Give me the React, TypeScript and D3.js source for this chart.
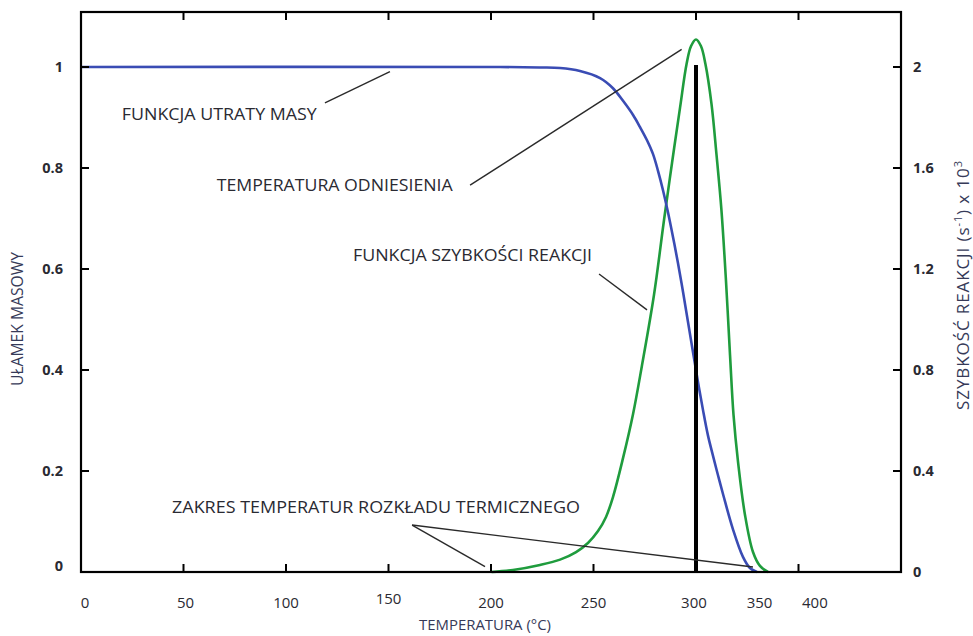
import React from "react";
import * as d3 from "d3";

// ---- data ----
const tempTicks = [0, 50, 100, 150, 200, 250, 300, 350, 400];
const tempTickLabels = ["0", "50", "100", "150", "200", "250", "300", "350", "400"];
const tempTickLabelAt = [2, 51, 100, 150, 200, 250, 299, 331, 358];
const massTicks = [0, 0.2, 0.4, 0.6, 0.8, 1];
const massTickLabels = ["0", "0.2", "0.4", "0.6", "0.8", "1"];
const rateTicks = [0, 0.4, 0.8, 1.2, 1.6, 2];
const rateTickLabels = ["0", "0.4", "0.8", "1.2", "1.6", "2"];

// mass-loss function (mass fraction)
const massTemp = [0, 204.4, 223.9, 233.7, 243.4, 253.2, 259.5, 264.4, 269.3, 272.7, 276.1, 279.0, 281.5, 283.9, 286.3, 288.8, 291.2, 293.7, 296.1, 298.5, 300.9, 303.4, 305.8, 308.3, 310.7, 313.2, 318.0, 322.9, 326.3, 329.7];
const massValue = [1, 1, 0.999, 0.998, 0.992, 0.978, 0.958, 0.933, 0.905, 0.881, 0.855, 0.828, 0.794, 0.756, 0.713, 0.663, 0.612, 0.554, 0.495, 0.436, 0.378, 0.321, 0.271, 0.23, 0.192, 0.154, 0.085, 0.03, 0.008, 0];

// reaction-rate function (s^-1 x 10^3)
const rateTemp = [200.3, 210.7, 223.9, 233.7, 241.5, 247.3, 252.2, 256.1, 259.5, 264.4, 269.3, 273.6, 279.5, 284.4, 288.3, 292.2, 295.4, 297.6, 300.0, 302.4, 304.6, 307.6, 310.0, 312.4, 314.6, 316.6, 318.3, 320.5, 323.9, 327.8, 331.2, 335.1];
const rateValue = [0, 0.008, 0.028, 0.049, 0.079, 0.115, 0.162, 0.218, 0.297, 0.451, 0.626, 0.816, 1.097, 1.394, 1.62, 1.838, 2.012, 2.083, 2.109, 2.083, 2.012, 1.851, 1.653, 1.434, 1.157, 0.859, 0.622, 0.436, 0.226, 0.079, 0.024, 0];

const refTemperature = 300;
const refRate = 2;

const annotationTexts = [
  "FUNKCJA UTRATY MASY",
  "TEMPERATURA ODNIESIENIA",
  "FUNKCJA SZYBKOŚCI REAKCJI",
  "ZAKRES TEMPERATUR ROZKŁADU TERMICZNEGO",
];
// anchor [temperature, mass fraction]
const annotationAnchors: [number, number][] = [
  [19.9, 0.907],
  [66.2, 0.766],
  [132.7, 0.628],
  [44.4, 0.129],
];
// leader lines [[t1, m1], [t2, m2]]
const leaderLines: [number, number][][] = [
  [[119.0, 0.929], [150.7, 0.991]],
  [[189.8, 0.766], [293.0, 1.035]],
  [[252.7, 0.59], [276.1, 0.519]],
  [[161.5, 0.093], [197.1, 0.0105]],
  [[161.5, 0.093], [327.8, 0.0099]],
];

export default function App() {
  const W = 973;
  const H = 636;
  const left = 81, right = 901, top = 12, bottom = 572;
  const x = d3.scaleLinear().domain([0, 400]).range([left, right]);
  const yM = d3.scaleLinear().domain([0, (bottom - top) / 505]).range([bottom, top]);
  const yR = d3.scaleLinear().domain([0, (2 * (bottom - top)) / 505]).range([bottom, top]);

  const massLine = d3
    .line<number>()
    .x((_, i) => x(massTemp[i]))
    .y((d) => yM(d))
    .curve(d3.curveCatmullRom.alpha(0.5));
  const rateLine = d3
    .line<number>()
    .x((_, i) => x(rateTemp[i]))
    .y((d) => yR(d))
    .curve(d3.curveCatmullRom.alpha(0.5));

  const textColor = "#2a2a32";
  const titleColor = "#363a58";
  const font = "'Open Sans', 'DejaVu Sans', sans-serif";
  const annoLen = [195, 236, 239, 408];
  const tickLen = 8;

  return (
    <svg
      width={W}
      height={H}
      style={{ position: "fixed", left: 0, top: 0, background: "#fff" }}
      fontFamily={font}
    >
      <rect x={0} y={0} width={W} height={H} fill="#fff" />

      {/* curves */}
      <path d={rateLine(rateValue) || ""} fill="none" stroke="#1f9c3d" strokeWidth={2.6} />
      <path d={massLine(massValue) || ""} fill="none" stroke="#3a4cb4" strokeWidth={2.6} />

      {/* reference temperature line */}
      <line
        x1={x(refTemperature)}
        x2={x(refTemperature)}
        y1={yR(0)}
        y2={yR(refRate) - 2}
        stroke="#000"
        strokeWidth={4}
      />

      {/* leader lines */}
      {leaderLines.map((l, i) => (
        <line
          key={"ll" + i}
          x1={x(l[0][0])}
          y1={yM(l[0][1])}
          x2={x(l[1][0])}
          y2={yM(l[1][1])}
          stroke="#2a2a2a"
          strokeWidth={1.4}
        />
      ))}

      {/* annotation texts */}
      {annotationTexts.map((t, i) => (
        <text
          key={"at" + i}
          x={x(annotationAnchors[i][0])}
          y={yM(annotationAnchors[i][1])}
          dy="0.36em"
          fontSize={17}
          fill={textColor}
          textLength={annoLen[i]}
          lengthAdjust="spacingAndGlyphs"
        >
          {t}
        </text>
      ))}

      {/* frame */}
      <rect
        x={left}
        y={top}
        width={right - left}
        height={bottom - top}
        fill="none"
        stroke="#000"
        strokeWidth={2.2}
      />

      {/* x ticks (bottom and top, inward) */}
      {tempTicks.slice(1, -1).map((t) => (
        <g key={"xt" + t}>
          <line x1={x(t)} x2={x(t)} y1={bottom} y2={bottom - tickLen} stroke="#000" strokeWidth={2} />
          <line x1={x(t)} x2={x(t)} y1={top} y2={top + tickLen} stroke="#000" strokeWidth={2} />
        </g>
      ))}
      {tempTickLabels.map((lab, i) => (
        <text
          key={"xl" + i}
          x={x(tempTickLabelAt[i])}
          y={i === 3 ? 599 : 603}
          dy="0.36em"
          textAnchor="middle"
          fontSize={15}
          fill={textColor}
        >
          {lab}
        </text>
      ))}

      {/* left axis ticks */}
      {massTicks.slice(1).map((t) => (
        <line key={"ml" + t} x1={left} x2={left + tickLen} y1={yM(t)} y2={yM(t)} stroke="#000" strokeWidth={2} />
      ))}
      {massTickLabels.map((lab, i) => (
        <text
          key={"mlab" + i}
          x={63}
          y={i === 0 ? yM(massTicks[i]) - 6 : yM(massTicks[i])}
          dy="0.36em"
          textAnchor="end"
          fontSize={14.5}
          fontWeight={700}
          fill={textColor}
        >
          {lab}
        </text>
      ))}

      {/* right axis ticks */}
      {rateTicks.slice(1).map((t) => (
        <line key={"rl" + t} x1={right} x2={right - tickLen} y1={yR(t)} y2={yR(t)} stroke="#000" strokeWidth={2} />
      ))}
      {rateTickLabels.map((lab, i) => (
        <text
          key={"rlab" + i}
          x={913}
          y={yR(rateTicks[i])}
          dy="0.36em"
          textAnchor="start"
          fontSize={14.5}
          fontWeight={700}
          fill={textColor}
        >
          {lab}
        </text>
      ))}

      {/* axis titles */}
      <text
        x={485}
        y={625}
        dy="0.34em"
        textAnchor="middle"
        fontSize={15}
        fill={titleColor}
        textLength={132}
        lengthAdjust="spacingAndGlyphs"
      >
        TEMPERATURA (°C)
      </text>
      <text
        transform="translate(17,319) rotate(-90)"
        dy="0.36em"
        textAnchor="middle"
        fontSize={16}
        fill={titleColor}
        textLength={134}
        lengthAdjust="spacingAndGlyphs"
      >
        UŁAMEK MASOWY
      </text>
      <text
        transform="translate(963,285) rotate(-90)"
        dy="0.36em"
        textAnchor="middle"
        fontSize={17}
        letterSpacing={0.9}
        fill={titleColor}
      >
        SZYBKOŚĆ REAKCJI (s
        <tspan dy="-7" fontSize={11}>-1</tspan>
        <tspan dy="7">) x 10</tspan>
        <tspan dy="-7" fontSize={11}>3</tspan>
      </text>
    </svg>
  );
}
